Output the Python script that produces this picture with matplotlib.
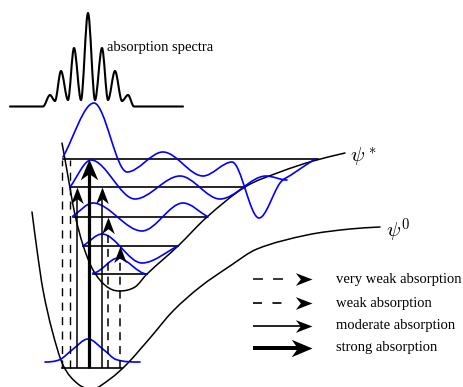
import numpy as np
import matplotlib
matplotlib.use('Agg')
import matplotlib.pyplot as plt
from matplotlib.path import Path
from matplotlib.patches import PathPatch

plt.rcParams['mathtext.fontset'] = 'cm'
plt.rcParams['lines.scale_dashes'] = False

# ---------------- data (pixel units) ----------------
# absorption spectrum (extrema of the trace)
spec_x = [10, 43, 50, 55, 61, 68, 74, 81, 88, 95, 102, 108, 115, 122, 128, 134, 183]
spec_y = [106.5, 106.5, 95, 101, 71, 100, 48, 100, 13, 100, 48, 100, 71, 101, 95, 106.5, 106.5]

# ground-state potential psi^0
gpot_x = [32, 37, 43, 52, 63, 78, 92, 110, 127, 150, 173, 200, 230, 257, 307, 350, 380]
gpot_y = [212, 250, 290, 330, 365, 384, 389, 379, 364, 338, 311, 287, 266, 249, 235, 229, 227]

# excited-state potential psi^*
epot_x = [62, 66, 70, 75, 83, 93, 106, 119, 135, 147, 178, 207, 245, 280, 313, 345]
epot_y = [143, 165, 188, 215, 245, 270, 286, 291, 287, 274, 246, 217, 187, 172, 161, 153]

# excited vibrational levels
lev_y = [159, 187, 217, 246, 274]
lev_x0 = [63, 70, 73, 83, 93]
lev_x1 = [318, 245, 207, 178, 147]

# ground vibrational level
glev_y = 368
glev_x0, glev_x1 = 62, 122

# wavefunctions (extrema / key points)
wf4_x = [63, 94, 127, 163, 203, 232, 259, 280, 291, 315]
wf4_y = [157, 103, 172, 152, 176, 162, 218, 183, 175, 159]
wf3_x = [70, 91, 135, 180, 220, 266, 287]
wf3_y = [187, 160, 199, 176, 199, 176, 180]
wf2_x = [73, 93, 142, 183, 208]
wf2_y = [216, 203, 231, 203, 217]
wf1_x = [83, 102, 142, 178]
wf1_y = [246, 234, 263, 246]
wf0_x = [93, 118, 147]
wf0_y = [273, 258, 274]
wfg_x = [45, 60, 72, 88, 104, 116, 140]
wfg_y = [362, 359.5, 350, 339, 350, 359.5, 362]

# vertical transitions
tr_x = [62, 70, 77, 89, 102, 108, 120]
tr_top = [160, 160, 187, 159, 187, 217, 246]
tr_kind = ['vweak', 'vweak', 'moderate', 'strong', 'moderate', 'weak', 'weak']
tr_head = [False, False, True, True, True, True, True]

# legend
leg_labels = ['very weak absorption', 'weak absorption',
              'moderate absorption', 'strong absorption']
leg_kind = ['vweak', 'weak', 'moderate', 'strong']
leg_y = [279, 303, 326, 348]

# ---------------- helpers ----------------
def smooth_path(xs, ys, ends=('flat', 'flat')):
    xs = np.asarray(xs, float)
    ys = np.asarray(ys, float)
    n = len(xs)
    s = np.zeros(n)
    for i in range(1, n - 1):
        if (ys[i] - ys[i - 1]) * (ys[i + 1] - ys[i]) <= 0:
            s[i] = 0.0
        else:
            s[i] = (ys[i + 1] - ys[i - 1]) / (xs[i + 1] - xs[i - 1])
    s[0] = 0.0 if ends[0] == 'flat' else (ys[1] - ys[0]) / (xs[1] - xs[0])
    s[-1] = 0.0 if ends[1] == 'flat' else (ys[-1] - ys[-2]) / (xs[-1] - xs[-2])
    verts = [(xs[0], ys[0])]
    codes = [Path.MOVETO]
    for i in range(n - 1):
        d = (xs[i + 1] - xs[i]) / 3.0
        verts += [(xs[i] + d, ys[i] + s[i] * d),
                  (xs[i + 1] - d, ys[i + 1] - s[i + 1] * d),
                  (xs[i + 1], ys[i + 1])]
        codes += [Path.CURVE4] * 3
    return Path(verts, codes)


def draw_curve(ax, xs, ys, color, lw, ends=('flat', 'flat'), z=2):
    ax.add_patch(PathPatch(smooth_path(xs, ys, ends), facecolor='none',
                           edgecolor=color, lw=lw, zorder=z,
                           capstyle='round', joinstyle='round'))


def head_path(direction, w):
    if direction == 'up':
        v = [(0, 0), (-w, -1), (0, -0.7), (w, -1), (0, 0)]
    else:
        v = [(0, 0), (-1, w), (-0.7, 0), (-1, -w), (0, 0)]
    return Path(v, [Path.MOVETO, Path.LINETO, Path.LINETO, Path.LINETO, Path.CLOSEPOLY])


STYLE = {
    'vweak': dict(lw=1.0, ls=(0, (5.8, 4.6)), ms=24, w=0.38),
    'weak': dict(lw=1.1, ls=(0, (5.8, 4.2)), ms=24, w=0.38),
    'moderate': dict(lw=1.1, ls='-', ms=24, w=0.38),
    'strong': dict(lw=2.3, ls='-', ms=30, w=0.42),
}
LEG_LS = {'vweak': (0, (7.2, 7.2)), 'weak': (0, (6.5, 7.5)),
          'moderate': '-', 'strong': '-'}
LEG_END = {'vweak': 288, 'weak': 288, 'moderate': 303, 'strong': 303}

# ---------------- figure ----------------
fig = plt.figure(figsize=(4.63, 3.87), dpi=100)
ax = fig.add_axes([0, 0, 1, 1])
ax.set_xlim(0, 463)
ax.set_ylim(387, 0)
ax.axis('off')

K = 'black'
B = '#0000ff'

# spectrum
draw_curve(ax, spec_x, spec_y, K, 1.5)
ax.text(107, 47, 'absorption spectra', fontsize=10.5, family='Liberation Serif',
        ha='left', va='center')

# potentials
draw_curve(ax, gpot_x, gpot_y, K, 1.1, ends=('slope', 'slope'))
draw_curve(ax, epot_x, epot_y, K, 1.1, ends=('slope', 'slope'))
ax.text(350, 157, r'$\psi^*$', fontsize=15, ha='left', va='center')
ax.text(386, 231, r'$\psi^0$', fontsize=15, ha='left', va='center')

# levels
for y, x0, x1 in zip(lev_y, lev_x0, lev_x1):
    ax.plot([x0, x1], [y, y], color=K, lw=1.2, zorder=2)
ax.plot([glev_x0, glev_x1], [glev_y, glev_y], color=K, lw=1.2, zorder=2)

# wavefunctions
draw_curve(ax, wf4_x, wf4_y, B, 1.2, ends=('slope', 'slope'), z=3)
draw_curve(ax, wf3_x, wf3_y, B, 1.2, ends=('slope', 'flat'), z=3)
draw_curve(ax, wf2_x, wf2_y, B, 1.2, ends=('slope', 'slope'), z=3)
draw_curve(ax, wf1_x, wf1_y, B, 1.2, ends=('slope', 'slope'), z=3)
draw_curve(ax, wf0_x, wf0_y, B, 1.2, z=3)
draw_curve(ax, wfg_x, wfg_y, B, 1.2, z=3)

# transitions
for x, top, kind, hd in zip(tr_x, tr_top, tr_kind, tr_head):
    st = STYLE[kind]
    ax.plot([x, x], [glev_y, top + (8 if hd else 0)], color=K, lw=st['lw'],
            ls=st['ls'], zorder=4, solid_capstyle='butt')
    if hd:
        ax.plot([x], [top], marker=head_path('up', st['w']), ms=st['ms'],
                color=K, mew=0, zorder=5, ls='none')

# legend
for y, kind, lab in zip(leg_y, leg_kind, leg_labels):
    st = STYLE[kind]
    ax.plot([253, LEG_END[kind]], [y, y], color=K,
            lw=st['lw'] * (1.25 if kind == 'strong' else 1.1),
            ls=LEG_LS[kind], zorder=4, solid_capstyle='butt', dash_capstyle='butt')
    ax.plot([312], [y], marker=head_path('right', st['w']), ms=st['ms'],
            color=K, mew=0, zorder=5, ls='none')
    ax.text(336, y, lab, fontsize=10.5, family='Liberation Serif',
            ha='left', va='center')

fig.savefig('out.png', dpi=100)
